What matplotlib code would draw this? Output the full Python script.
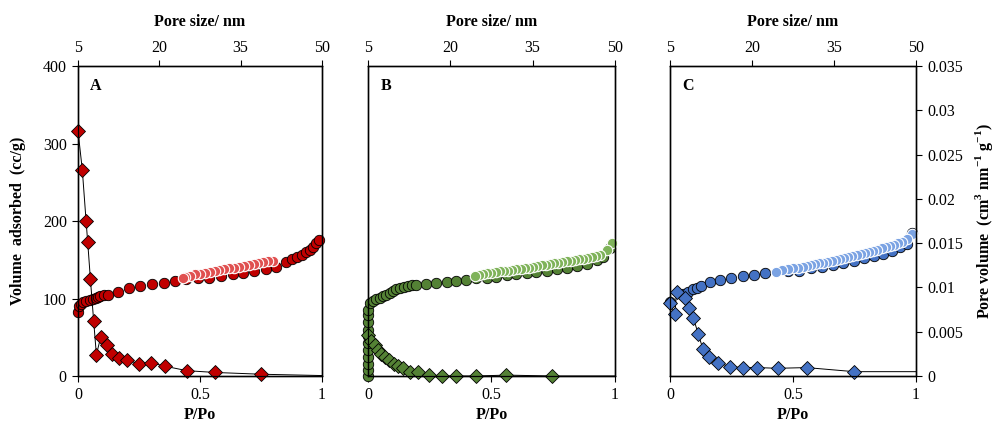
import matplotlib.pyplot as plt

plt.rcParams['font.family'] = ['Liberation Serif', 'DejaVu Serif']
plt.rcParams['mathtext.fontset'] = 'custom'
plt.rcParams['mathtext.rm'] = 'Liberation Serif'
plt.rcParams['mathtext.bf'] = 'Liberation Serif:bold'

# ---- data ----
# isotherms: P/Po vs volume adsorbed (cc/g)
a_ads_p = [0.0, 0.004, 0.011, 0.022, 0.035, 0.049, 0.061, 0.072, 0.082, 0.092, 0.105, 0.122,
           0.163, 0.211, 0.256, 0.303, 0.351, 0.396, 0.444, 0.490, 0.537, 0.587, 0.634, 0.678,
           0.721, 0.769, 0.811, 0.852, 0.876, 0.898, 0.918, 0.936, 0.950, 0.963, 0.977, 0.988]
a_ads_v = [83, 90, 93, 95, 97, 98, 99, 101, 102, 103, 104, 105,
           109, 113, 116, 119, 120, 122, 125, 126, 127, 129, 131, 133,
           135, 138, 141, 147.5, 150.5, 153, 156, 160, 163, 167, 171, 175]
a_des_p = [0.80, 0.78, 0.76, 0.74, 0.72, 0.70, 0.68, 0.66, 0.64, 0.62, 0.60, 0.58, 0.56,
           0.54, 0.52, 0.50, 0.48, 0.46, 0.44, 0.43]
a_des_v = [149, 148, 147, 145.5, 144.5, 143, 142, 141, 140, 139, 137.5, 136.5, 135.5,
           134.5, 133, 132, 131, 129.5, 128, 126]

b_ads_p = [0.0, 0.0, 0.0, 0.0, 0.0, 0.0, 0.0, 0.0, 0.0, 0.0, 0.0,
           0.007, 0.020, 0.034, 0.047, 0.061, 0.074, 0.088, 0.101, 0.115, 0.128, 0.145, 0.162,
           0.180, 0.196, 0.236, 0.277, 0.318, 0.358, 0.396, 0.439, 0.480, 0.520, 0.561, 0.601,
           0.642, 0.682, 0.723, 0.764, 0.804, 0.845, 0.885, 0.926, 0.953, 0.980]
b_ads_v = [0, 7.7, 16, 25, 33.5, 42, 51, 59, 70, 79, 85,
           94, 97, 99, 101, 103, 105, 107.5, 110, 112, 113, 114.5, 116,
           117, 117.5, 119, 120, 121, 122.6, 124, 126, 127, 128, 130, 131,
           132.5, 134, 136, 138, 140, 142, 145, 150, 154, 165]
b_des_p = [0.99, 0.966, 0.939, 0.922, 0.905, 0.888, 0.872, 0.855, 0.838, 0.821, 0.804, 0.787,
           0.770, 0.753, 0.736, 0.720, 0.703, 0.686, 0.669, 0.652, 0.635, 0.618, 0.601, 0.585,
           0.568, 0.551, 0.534, 0.517, 0.500, 0.483, 0.466, 0.449, 0.432]
b_des_v = [172, 162.6, 156.6, 155.3, 154, 152.5, 151, 150.5, 150, 149, 148, 147,
           146, 145.3, 144.5, 143.8, 143, 142, 141, 140, 139, 138.3, 137.6, 136.8,
           136, 135.5, 135, 134, 133, 132.3, 131.6, 130.3, 129]

c_ads_p = [0.0, 0.054, 0.075, 0.095, 0.108, 0.125, 0.163, 0.203, 0.248, 0.295, 0.341, 0.386,
           0.481, 0.526, 0.572, 0.617, 0.661, 0.705, 0.748, 0.790, 0.831, 0.867, 0.901,
           0.935, 0.962, 0.985]
c_ads_v = [95, 105.6, 109, 112, 114, 116, 120.7, 123.7, 127, 128.4, 130.6, 132.3,
           135, 135.8, 138.8, 141, 143, 145.7, 148.7, 151.7, 154.7, 158, 161.6,
           166, 170, 185]
c_des_p = [0.982, 0.962, 0.945, 0.928, 0.911, 0.894, 0.877, 0.860, 0.843, 0.827, 0.810,
           0.793, 0.776, 0.759, 0.742, 0.725, 0.708, 0.691, 0.674, 0.657, 0.640, 0.623, 0.606,
           0.589, 0.572, 0.556, 0.539, 0.522, 0.500, 0.481, 0.456, 0.431]
c_des_v = [183, 176.7, 173.5, 171, 169.3, 167.7, 166.2, 164.7, 163.2, 161.6, 160,
           158.6, 157.3, 156, 154.5, 153, 151.7, 150.4, 149.2, 148, 147, 146, 145.2,
           144.4, 143.2, 142, 141, 140, 139, 138, 136.3, 134.5]

# pore size distributions: pore size (nm) vs pore volume (cm3 nm-1 g-1), last point = line tail
a_psd_size = [5.0, 5.8, 6.5, 6.8, 7.3, 7.9, 8.4, 9.2, 10.3, 11.2, 12.5, 14.0, 16.2, 18.5,
              21.1, 25.1, 30.3, 38.8, 50.0]
a_psd_vol = [0.0277, 0.0233, 0.0175, 0.0151, 0.0109, 0.0062, 0.0024, 0.0044, 0.0035, 0.0025,
             0.0020, 0.0018, 0.0014, 0.0015, 0.0011, 0.0006, 0.0004, 0.0002, 0.00005]
b_psd_size = [5.0, 5.6, 6.2, 6.8, 7.4, 8.1, 8.8, 9.7, 10.5, 11.4, 12.6, 14.1, 16.1, 18.4,
              21.0, 24.6, 30.2, 38.6, 50.0]
b_psd_vol = [0.0046, 0.0040, 0.0035, 0.0029, 0.0025, 0.0022, 0.0018, 0.0014, 0.0011, 0.0009,
             0.0005, 0.0004, 0.0001, 0.0, 0.0, 0.0, 0.0001, 0.0, 0.0]
c_psd_size = [5.0, 5.9, 6.2, 7.7, 8.4, 9.3, 10.2, 11.0, 12.2, 13.8, 16.0, 18.4, 21.0,
              24.7, 30.0, 38.7, 50.0]
c_psd_vol = [0.0082, 0.0070, 0.0095, 0.0088, 0.0077, 0.0065, 0.0047, 0.0031, 0.0022, 0.0015,
             0.00105, 0.00095, 0.00095, 0.00087, 0.00095, 0.00049, 0.00049]

panels = ['A', 'B', 'C']
dark = ['#C00000', '#548235', '#4472C4']
light = ['#E05050', '#7FB35A', '#7BA3E3']

ads = [(a_ads_p, a_ads_v), (b_ads_p, b_ads_v), (c_ads_p, c_ads_v)]
des = [(a_des_p, a_des_v), (b_des_p, b_des_v), (c_des_p, c_des_v)]
psd = [(a_psd_size, a_psd_vol), (b_psd_size, b_psd_vol), (c_psd_size, c_psd_vol)]

fig = plt.figure(figsize=(9.93, 4.22), dpi=100)
lefts = [0.0785, 0.3706, 0.6747]
widths = [0.2457, 0.2487, 0.2477]

fs = 11.5
for i in range(3):
    ax = fig.add_axes([lefts[i], 0.109, widths[i], 0.7346])
    ax2 = ax.twinx()
    ax3 = ax2.twiny()

    # isotherm on bottom/left axes
    ax.plot(ads[i][0], ads[i][1], 'o', ms=7.5, mfc=dark[i], mec='black', mew=0.6,
            zorder=3, clip_on=False)
    ax.plot(des[i][0], des[i][1], 'o', ms=7.5, mfc=light[i], mec='white', mew=0.8,
            zorder=4, clip_on=False)
    ax.set_xlim(0, 1)
    ax.set_ylim(0, 400)
    ax.set_xticks([0, 0.5, 1])
    ax.set_xticklabels(['0', '0.5', '1'])
    ax.set_xlabel('P/Po', fontsize=fs, fontweight='bold', labelpad=3)
    ax.tick_params(direction='out', length=4, labelsize=fs, pad=4)
    if i == 0:
        ax.set_yticks([0, 100, 200, 300, 400])
        ax.set_ylabel('Volume  adsorbed  (cc/g)', fontsize=fs, fontweight='bold', labelpad=12)
    else:
        ax.set_yticks([])

    # pore size distribution on top/right axes
    ax3.plot(psd[i][0], psd[i][1], '-', color='black', lw=0.7, zorder=1, clip_on=False)
    ax3.plot(psd[i][0][:-1], psd[i][1][:-1], 'D', ms=7.5, mfc=dark[i], mec='black', mew=0.6,
             zorder=2, clip_on=False)
    ax3.set_xlim(5, 50)
    ax2.set_ylim(0, 0.035)
    ax3.set_ylim(0, 0.035)
    ax3.set_xticks([5, 20, 35, 50])
    ax3.set_xlabel('Pore size/ nm', fontsize=fs, fontweight='bold', labelpad=10)
    ax3.tick_params(direction='out', length=4, labelsize=fs, pad=3)
    if i == 2:
        ax2.set_yticks([0, 0.005, 0.01, 0.015, 0.02, 0.025, 0.03, 0.035])
        ax2.set_yticklabels(['0', '0.005', '0.01', '0.015', '0.02', '0.025', '0.03', '0.035'])
        ax2.set_ylabel('Pore volume  (cm$^{\\mathbf{3}}$ nm$^{\\mathbf{-1}}$ g$^{\\mathbf{-1}}$)',
                       fontsize=fs, fontweight='bold', labelpad=7)
        ax2.tick_params(direction='out', length=4, labelsize=fs, pad=4)
    else:
        ax2.set_yticks([])

    for a in (ax, ax2, ax3):
        for s in a.spines.values():
            s.set_linewidth(0.9)

    ax.text(0.05, 0.935, panels[i], transform=ax.transAxes, fontsize=fs,
            fontweight='bold', va='center', ha='left')

fig.savefig('out.png', dpi=100)
